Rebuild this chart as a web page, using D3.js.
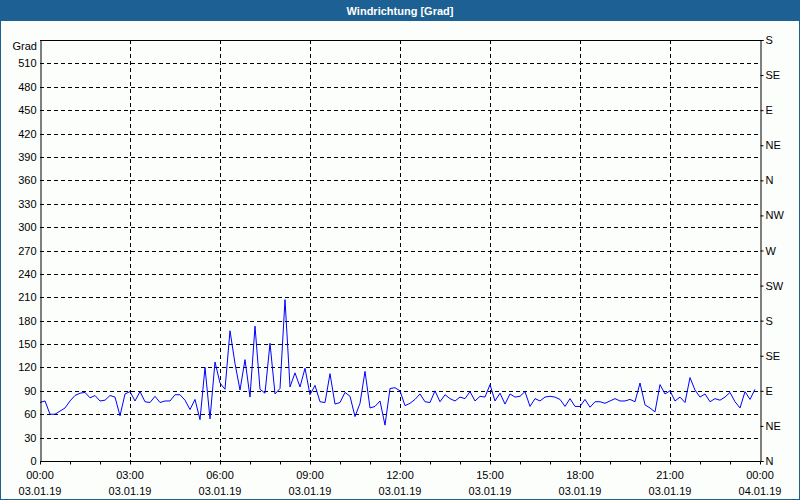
<!DOCTYPE html>
<html><head><meta charset="utf-8">
<script src="https://cdn.jsdelivr.net/npm/d3@7/dist/d3.min.js"></script>
<style>
html,body{margin:0;padding:0;background:#fff;}
svg{display:block;}
text{font-family:"Liberation Sans","DejaVu Sans",sans-serif;font-size:11px;fill:#000;}
</style></head><body>
<script>
const title = "Windrichtung [Grad]";
const yUnit = "Grad";
const startTime = "2019-01-03T00:00:00";
const endTime = "2019-01-04T00:00:00";
const intervalMinutes = 10;
const values = [
 75,77,60,60,64,68,77,84,87,88,81,84,77,78,84,82,58,86,
 89,77,89,76,75,83,75,77,77,85,85,78,66,79,53,120,54,127,
 100,92,167,125,91,130,82,173,92,87,151,86,93,207,95,113,95,119,
 85,97,76,75,112,73,75,88,83,57,74,115,68,70,77,46,93,94,
 90,71,74,79,86,76,75,90,76,85,80,77,82,80,89,77,83,82,
 98,77,87,73,86,82,83,89,70,80,77,82,83,82,79,70,80,70,
 70,79,69,76,76,74,77,80,77,77,79,76,100,72,68,63,98,86,
 90,77,82,75,107,91,82,86,76,80,78,82,88,76,68,89,79,92
];
const yTicks = [0,30,60,90,120,150,180,210,240,270,300,330,360,390,420,450,480,510];
const compassTicks = [0,45,90,135,180,225,270,315,360,405,450,495,540];
const compassLabels = ["N","NE","E","SE","S","SW","W","NW","N","NE","E","SE","S"];
const yMax = 540;

const W = 800, H = 500;
const m = {l:40, r:40, t:40, b:39};
const svg = d3.select("body").append("svg").attr("width",W).attr("height",H);

svg.append("rect").attr("x",0.5).attr("y",0.5).attr("width",W-1).attr("height",H-1)
  .attr("fill","#fcfefc").attr("stroke","#1d6093");
svg.append("rect").attr("x",0).attr("y",0).attr("width",W).attr("height",21).attr("fill","#1d6093");
svg.append("text").attr("x",W/2).attr("y",15).attr("text-anchor","middle")
  .style("fill","#fff").style("font-weight","bold").style("font-size","11px").text(title);

const parse = d3.isoParse;
const t0 = parse(startTime), t1 = parse(endTime);
const data = values.map((v,i)=>({t:new Date(t0.getTime()+i*intervalMinutes*60000), v}));

const x = d3.scaleTime().domain([t0,t1]).range([m.l, W-m.r]);
const y = d3.scaleLinear().domain([0,yMax]).range([H-m.b, m.t]);

const g = svg.append("g");
// grid
const majorTimes = d3.timeHour.every(3).range(t0, d3.timeHour.offset(t1,1));
g.selectAll(".hg").data(yTicks.filter(d=>d>0)).join("line")
  .attr("x1",m.l).attr("x2",W-m.r).attr("y1",d=>Math.round(y(d))+0.5).attr("y2",d=>Math.round(y(d))+0.5)
  .attr("stroke","#000").attr("stroke-dasharray","4,3");
g.selectAll(".vg").data(majorTimes.filter(d=>d>t0 && d<t1)).join("line")
  .attr("x1",d=>Math.round(x(d))+0.5).attr("x2",d=>Math.round(x(d))+0.5)
  .attr("y1",m.t).attr("y2",H-m.b).attr("stroke","#000").attr("stroke-dasharray","4,3");

// line
const line = d3.line().x(d=>x(d.t)).y(d=>y(d.v));
svg.append("path").datum(data).attr("d",line).attr("fill","none").attr("stroke","#0000ff").attr("stroke-width",1);

// left axis
const yAxis = d3.axisLeft(y).tickValues(yTicks).tickSize(0).tickPadding(4);
const gl = svg.append("g").attr("transform",`translate(${m.l+0.5},0)`).call(yAxis);
gl.select(".domain").attr("stroke","#000");
gl.selectAll("text").style("font-size","11px").attr("font-family",null);
svg.append("text").attr("x",m.l-3).attr("y",m.t+10).attr("text-anchor","end").text(yUnit);

// right axis
const yC = d3.scaleLinear().domain([0,yMax]).range([H-m.b, m.t]);
const rAxis = d3.axisRight(yC).tickValues(compassTicks).tickSize(3).tickPadding(2)
  .tickFormat((d,i)=>compassLabels[i]);
const gr = svg.append("g").attr("transform",`translate(${W-m.r+0.5},0)`).call(rAxis);
gr.selectAll("text").style("font-size","11px").attr("font-family",null);

// top border
svg.append("line").attr("x1",m.l).attr("x2",W-m.r+1).attr("y1",m.t+0.5).attr("y2",m.t+0.5).attr("stroke","#000");

// bottom axis
const hourly = d3.timeHour.every(1).range(t0, d3.timeHour.offset(t1,1));
const gb = svg.append("g").attr("transform",`translate(0,${H-m.b+0.5})`);
gb.append("line").attr("x1",m.l).attr("x2",W-m.r+1).attr("stroke","#000");
gb.selectAll(".mt").data(hourly).join("line")
  .attr("x1",d=>Math.round(x(d))+0.5).attr("x2",d=>Math.round(x(d))+0.5)
  .attr("y1",0).attr("y2",3).attr("stroke","#000");
const fTime = d3.timeFormat("%H:%M"), fDate = d3.timeFormat("%d.%m.%y");
gb.selectAll(".l1").data(majorTimes).join("text")
  .attr("x",d=>x(d)).attr("y",17).attr("text-anchor","middle").text(d=>fTime(d));
gb.selectAll(".l2").data(majorTimes).join("text")
  .attr("x",d=>x(d)).attr("y",33).attr("text-anchor","middle").text(d=>fDate(d));
</script>
</body></html>
